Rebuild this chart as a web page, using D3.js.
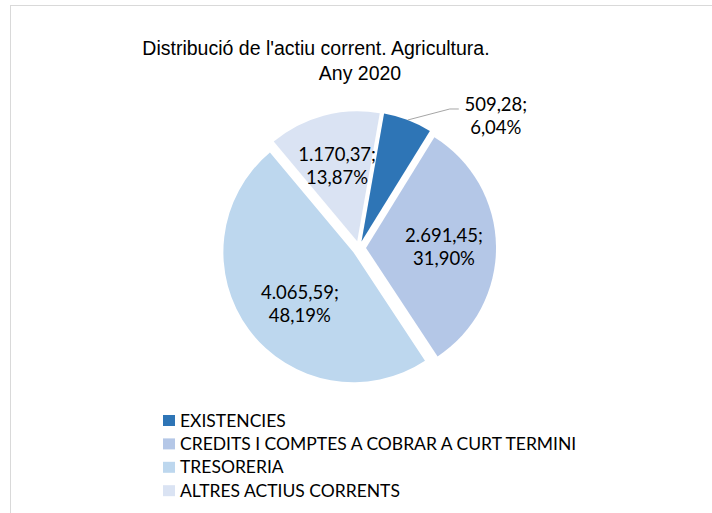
<!DOCTYPE html>
<html>
<head>
<meta charset="utf-8">
<script src="https://cdn.jsdelivr.net/npm/d3@7"></script>
<style>
  body { margin: 0; background: #fff; }
  svg { display: block; }
</style>
</head>
<body>
<div id="chart"></div>
<script>
// chart data
const titleLines = ["Distribució de l'actiu corrent. Agricultura.", "Any 2020"];
const categories = ["EXISTENCIES", "CREDITS I COMPTES A COBRAR A CURT TERMINI", "TRESORERIA", "ALTRES ACTIUS CORRENTS"];
const values = [509.28, 2691.45, 4065.59, 1170.37];
const colors = ["#2e75b6", "#b4c7e7", "#bdd7ee", "#dae3f3"];

const width = 712, height = 513;
const cx = 359, cy = 248, radius = 130, explode = 7;
const labelRadius = 78;
const firstAngle = 10 * Math.PI / 180;

const ca = d3.formatLocale({ decimal: ",", thousands: ".", grouping: [3], currency: ["", "€"] });
const fmtValue = ca.format(",.2f");
const fmtPct = ca.format(".2f");
const total = d3.sum(values);

const svg = d3.select("#chart").append("svg")
    .attr("width", width)
    .attr("height", height);

// chart border (runs off the right/bottom edge)
svg.append("rect")
    .attr("x", 10.5).attr("y", 5.5)
    .attr("width", width).attr("height", height)
    .attr("fill", "#fff")
    .attr("stroke", "#d9d9d9");

// title, two lines as in the original (second line sits a bit to the right)
const titleFont = "'Liberation Sans', Arial, sans-serif";
svg.append("text")
    .attr("x", 316).attr("y", 55)
    .attr("text-anchor", "middle")
    .style("font-family", titleFont)
    .style("font-size", "19.5px")
    .attr("fill", "#000")
    .text(titleLines[0]);
svg.append("text")
    .attr("x", 360).attr("y", 80)
    .attr("text-anchor", "middle")
    .style("font-family", titleFont)
    .style("font-size", "19.5px")
    .attr("fill", "#000")
    .text(titleLines[1]);

const pie = d3.pie().sort(null).value(d => d)
    .startAngle(firstAngle)
    .endAngle(firstAngle + 2 * Math.PI);
const arcs = pie(values);

const arc = d3.arc().innerRadius(0).outerRadius(radius);
const labelArc = d3.arc().innerRadius(labelRadius).outerRadius(labelRadius);

const offset = a => {
    const mid = (a.startAngle + a.endAngle) / 2;
    return [Math.sin(mid) * explode, -Math.cos(mid) * explode];
};

const pieG = svg.append("g").attr("transform", `translate(${cx},${cy})`);

pieG.selectAll("path.slice")
    .data(arcs)
    .join("path")
    .attr("class", "slice")
    .attr("transform", d => `translate(${offset(d)})`)
    .attr("d", arc)
    .attr("fill", (d, i) => colors[i]);

const labelFont = "Lato, 'Open Sans', sans-serif";
const labelSize = 18.5;
// Excel's best-fit nudged the big slice's label a little
const labelNudge = { 2: [9, 5] };

// inside labels
arcs.forEach((a, i) => {
    if (i === 0) return;
    const [ox, oy] = offset(a);
    const [lx, ly] = labelArc.centroid(a);
    const [nx, ny] = labelNudge[i] || [0, 0];
    const x = lx + ox + nx, y = ly + oy + ny;
    const t = pieG.append("text")
        .attr("text-anchor", "middle")
        .style("font-family", labelFont)
        .style("font-size", labelSize + "px")
        .attr("fill", "#000");
    t.append("tspan").attr("x", x).attr("y", y - 5)
        .text(fmtValue(values[i]) + ";");
    t.append("tspan").attr("x", x).attr("y", y + 18)
        .text(fmtPct(values[i] / total * 100) + "%");
});

// outside label with leader for the small slice
{
    const a = arcs[0];
    const [ox, oy] = offset(a);
    const mid = (a.startAngle + a.endAngle) / 2;
    const sx = Math.sin(mid) * radius + ox, sy = -Math.cos(mid) * radius + oy;
    const ex = sx + 42, ey = sy - 11;
    pieG.append("polyline")
        .attr("points", [[sx, sy], [ex, ey], [ex + 9, ey]].map(p => p.join(",")).join(" "))
        .attr("fill", "none")
        .attr("stroke", "#a6a6a6")
        .attr("stroke-width", 1);
    const tx = ex + 46;
    const t = pieG.append("text")
        .attr("text-anchor", "middle")
        .style("font-family", labelFont)
        .style("font-size", labelSize + "px")
        .attr("fill", "#000");
    t.append("tspan").attr("x", tx).attr("y", ey + 2)
        .text(fmtValue(values[0]) + ";");
    t.append("tspan").attr("x", tx).attr("y", ey + 25)
        .text(fmtPct(values[0] / total * 100) + "%");
}

// legend
const legend = svg.append("g").attr("transform", "translate(163,415)");
const rows = legend.selectAll("g")
    .data(categories)
    .join("g")
    .attr("transform", (d, i) => `translate(0,${i * 23.4})`);
rows.append("rect")
    .attr("width", 12).attr("height", 11)
    .attr("fill", (d, i) => colors[i]);
rows.append("text")
    .attr("x", 17).attr("y", 11.5)
    .style("font-family", labelFont)
    .style("font-size", "17.5px")
    .attr("fill", "#000")
    .text(d => d);
</script>
</body>
</html>
